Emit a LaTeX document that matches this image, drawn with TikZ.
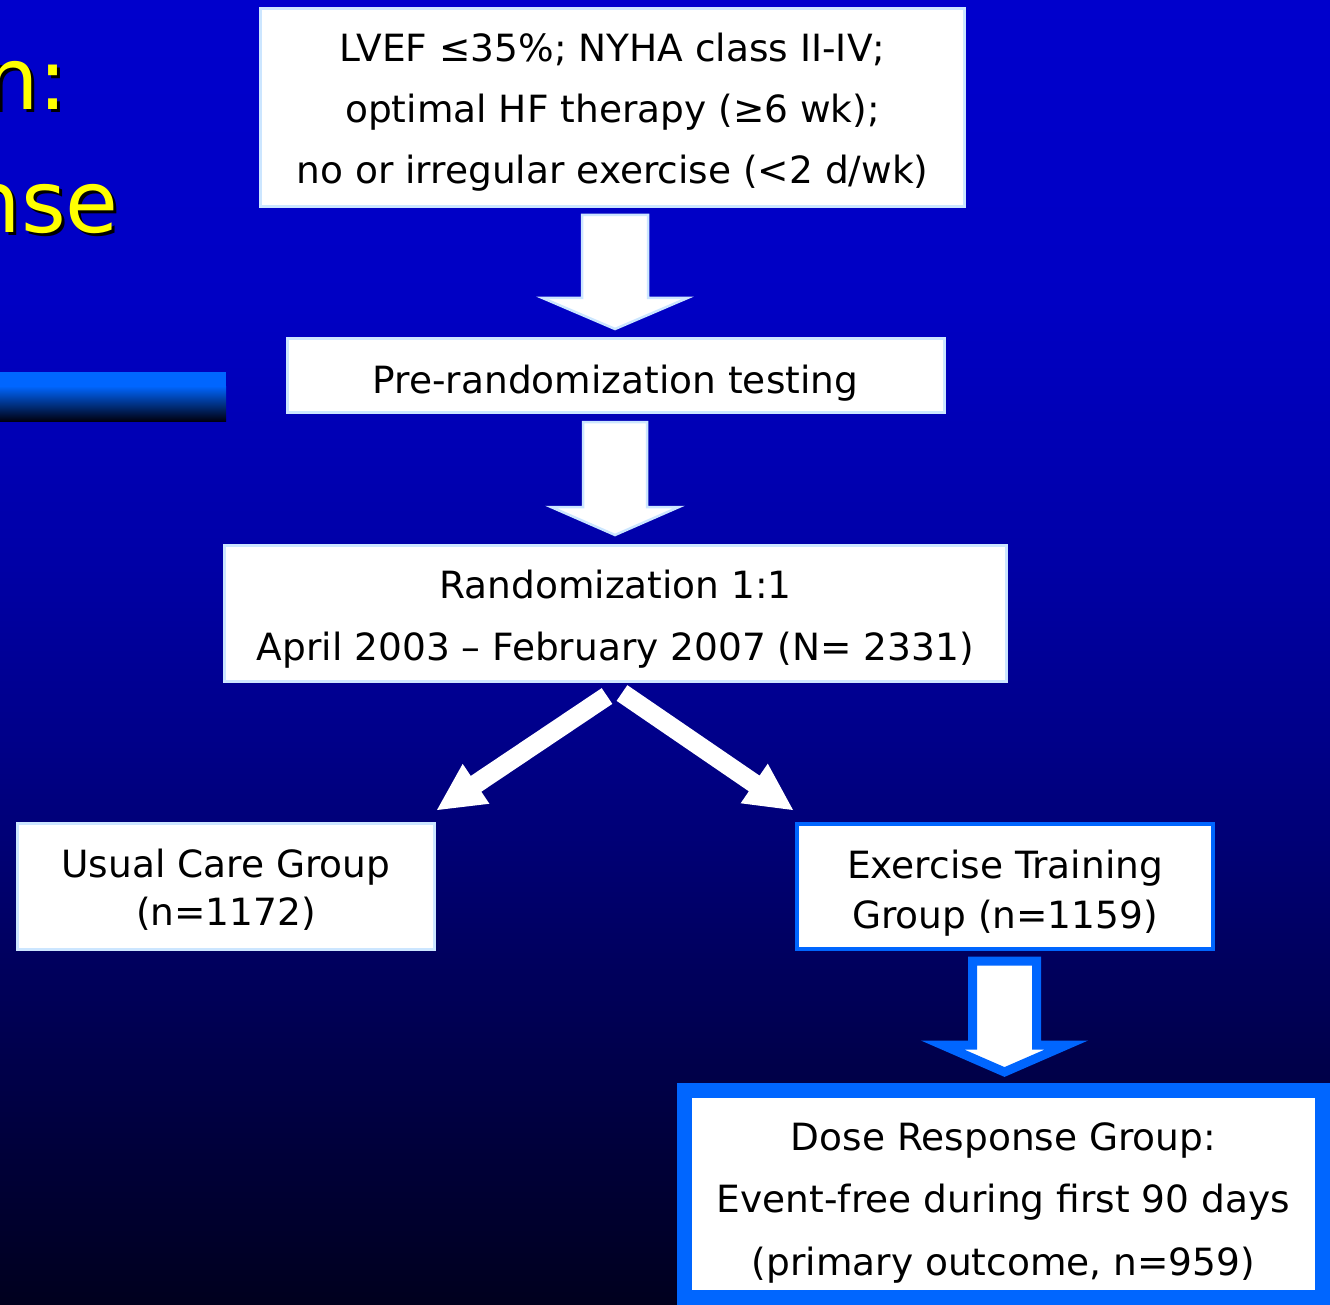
\documentclass[tikz,border=0pt]{standalone}
\usepackage{fontspec}
\setmainfont{DejaVu Sans}
\usetikzlibrary{calc}
\definecolor{lblue}{RGB}{204,230,255}
\definecolor{cblue}{RGB}{0,102,255}
\definecolor{titleyellow}{RGB}{255,255,0}
\newcommand{\splitarrow}[2]{%
  \coordinate (#1-hb) at ($(#2)!47pt!(#1)$);
  \fill[white] ($(#1)!9.5pt!90:(#2)$) -- ($(#1-hb)!9.5pt!90:(#2)$) -- ($(#1-hb)!24pt!90:(#2)$) -- (#2)
    -- ($(#1-hb)!24pt!-90:(#2)$) -- ($(#1-hb)!9.5pt!-90:(#2)$) -- ($(#1)!9.5pt!-90:(#2)$) -- cycle;}
\newcommand{\shadowtext}[1]{\rlap{\hspace{3pt}\raisebox{-3pt}{\textcolor{black}{#1}}}\textcolor{titleyellow}{#1}}
\begin{document}
\begin{tikzpicture}[x=1pt,y=-1pt,
  boxtext/.style={inner sep=0pt, align=center, fill=white},
  lbox/.style={boxtext, draw=lblue, line width=3pt},
  bbox/.style={boxtext, draw=cblue, line width=4pt},
  blockarrow/.style={fill=white, draw=lblue, line width=2.5pt, line join=miter},
  bluearrow/.style={fill=white, draw=cblue, line width=9pt, line join=miter},
  titletext/.style={inner sep=0pt, anchor=base east, font=\fontsize{86}{100}\selectfont}]
\useasboundingbox (0,0) rectangle (1330,1305);
\begin{scope}
\clip (0,0) rectangle (1330,1305);
% background gradient
\foreach \ya/\yb/\ca/\cb in {0/301/204/196, 300/551/196/168, 550/751/168/135, 750/951/135/96, 950/1151/96/58, 1150/1305/58/30}{
  \shade[top color={rgb,255:red,0;green,0;blue,\ca}, bottom color={rgb,255:red,0;green,0;blue,\cb}] (0,\ya) rectangle (1330,\yb);
}
% title fragments (cut off at the left edge, as in the slide)
\node[titletext] (t1) at (68,110) {\shadowtext{n:}};
\node[titletext] (t2) at (119,233) {\shadowtext{nse}};
% bar
\fill[cblue] (0,372) rectangle (226,387);
\shade[top color=cblue, bottom color={rgb,255:red,0;green,0;blue,16}] (0,386) rectangle (226,421);
\end{scope}

% boxes
\node[lbox, minimum width=704pt, minimum height=198pt, font=\fontsize{37.5}{61}\selectfont] (b1) at (612.5,107.5)
  {\rule{0pt}{41pt}LVEF ≤35\%; NYHA class II-IV;\\optimal HF therapy (≥6 wk);\\no or irregular exercise (<2 d/wk)\rule[-10pt]{0pt}{10pt}};
\node[lbox, minimum width=657pt, minimum height=74pt, font=\fontsize{37.5}{61}\selectfont] (b2) at (615.5,375.5)
  {\rule{0pt}{45pt}Pre-randomization testing\rule[-10pt]{0pt}{10pt}};
\node[lbox, minimum width=782pt, minimum height=136pt, font=\fontsize{37.5}{62}\selectfont] (b3) at (615.5,613.5)
  {\rule{0pt}{41pt}Randomization 1:1\\April 2003 – February 2007 (N= 2331)\rule[-10pt]{0pt}{10pt}};
\node[lbox, minimum width=417pt, minimum height=126pt, font=\fontsize{37.5}{48}\selectfont] (b4) at (226,886.5)
  {\rule{0pt}{39pt}Usual Care Group\\(n=1172)\rule[-10pt]{0pt}{10pt}};
\node[bbox, minimum width=416pt, minimum height=125pt, font=\fontsize{37.5}{50}\selectfont] (b5) at (1005,886.5)
  {\rule{0pt}{43pt}Exercise Training\\Group (n=1159)\rule[-10pt]{0pt}{10pt}};
\node[boxtext, draw=cblue, line width=15pt, minimum width=638pt, minimum height=207pt, font=\fontsize{37.5}{62.5}\selectfont] (b6) at (1003.5,1194)
  {\rule{0pt}{47pt}Dose Response Group:\\Event-free during first 90 days\\(primary outcome, n=959)\rule[-10pt]{0pt}{10pt}};

% block arrows
\draw[blockarrow] ($(b2.north)+(-0.5,-8)$) -- ++(-72.5,-31) -- ++(39.5,0) -- ++(0,-83) -- ++(66,0) -- ++(0,83) -- ++(39.5,0) -- cycle;
\draw[blockarrow] ($(b3.north)+(-0.5,-9)$) -- ++(-64,-28) -- ++(32,0) -- ++(0,-85) -- ++(64,0) -- ++(0,85) -- ++(32,0) -- cycle;
\draw[bluearrow] ($(b6.north)+(1,-11)$) -- ++(-62,-27) -- ++(30,0) -- ++(0,-84) -- ++(64,0) -- ++(0,84) -- ++(30,0) -- cycle;

% split arrows
\coordinate (la0) at ($(b3.south)+(-8.5,13)$);
\coordinate (la1) at ($(b4.north east)+(1,-12)$);
\coordinate (ra0) at ($(b3.south)+(6.5,10)$);
\coordinate (ra1) at ($(b5.north west)+(-2,-12)$);
\splitarrow{la0}{la1}
\splitarrow{ra0}{ra1}
\end{tikzpicture}
\end{document}
